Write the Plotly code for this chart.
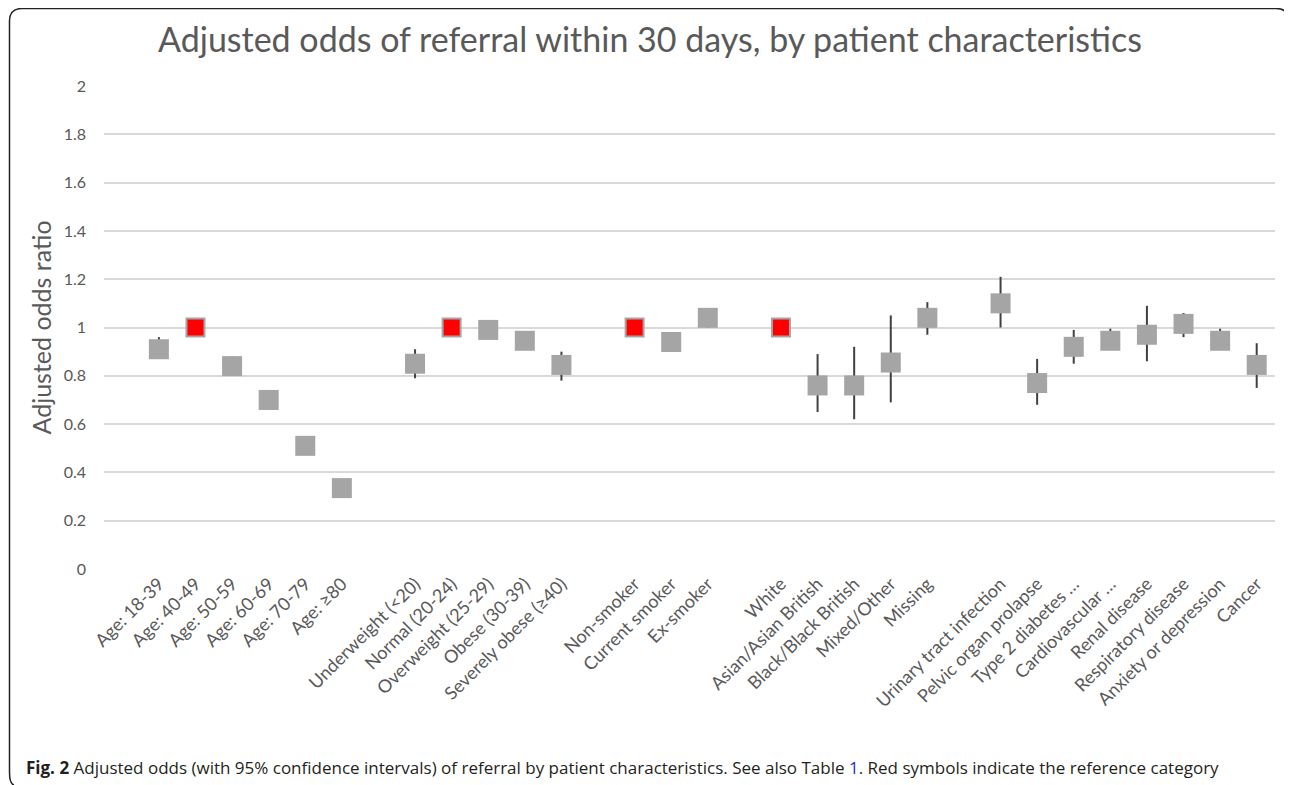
import plotly.graph_objects as go

# ---------------- data ----------------
categories = ["", "Age: 18-39", "Age: 40-49", "Age: 50-59", "Age: 60-69", "Age: 70-79", "Age: ≥80", "",
              "Underweight (&lt;20)", "Normal (20-24)", "Overweight (25-29)", "Obese (30-39)", "Severely obese (≥40)", "",
              "Non-smoker", "Current smoker", "Ex-smoker", "",
              "White", "Asian/Asian British", "Black/Black British", "Mixed/Other", "Missing", "",
              "Urinary tract infection", "Pelvic organ prolapse", "Type 2 diabetes …", "Cardiovascular …",
              "Renal disease", "Respiratory disease", "Anxiety or depression", "Cancer"]
odds = [None, 0.91, 1.0, 0.84, 0.70, 0.51, 0.335, None,
        0.85, 1.0, 0.99, 0.945, 0.845, None,
        1.0, 0.94, 1.04, None,
        1.0, 0.76, 0.76, 0.855, 1.04, None,
        1.10, 0.77, 0.92, 0.945, 0.97, 1.015, 0.945, 0.845]
lower = [None, 0.87, 1.0, 0.80, 0.66, 0.48, 0.31, None,
         0.79, 1.0, 0.95, 0.91, 0.78, None,
         1.0, 0.90, 1.00, None,
         1.0, 0.65, 0.62, 0.69, 0.97, None,
         1.00, 0.68, 0.85, 0.91, 0.86, 0.96, 0.91, 0.75]
upper = [None, 0.96, 1.0, 0.88, 0.74, 0.55, 0.36, None,
         0.91, 1.0, 1.03, 0.985, 0.90, None,
         1.0, 0.98, 1.08, None,
         1.0, 0.89, 0.92, 1.05, 1.105, None,
         1.21, 0.87, 0.99, 0.995, 1.09, 1.06, 0.995, 0.935]
reference = ["Age: 40-49", "Normal (20-24)", "Non-smoker", "White"]
y_ticks = [0, 0.2, 0.4, 0.6, 0.8, 1, 1.2, 1.4, 1.6, 1.8, 2]

title_text = "Adjusted odds of referral within 30 days, by patient characteristics"
y_title = "Adjusted odds ratio"
caption = ("<b>Fig. 2</b> Adjusted odds (with 95% confidence intervals) of referral by patient characteristics. "
           "See also Table <span style='color:#2b2bd6'>1</span>. Red symbols indicate the reference category")

# ---------------- build ----------------
x = list(range(len(categories)))
is_ref = [c in reference for c in categories]

gx, gy, gup, gdn = [], [], [], []
rx, ry = [], []
for i, (c, v, lo, hi, r) in enumerate(zip(categories, odds, lower, upper, is_ref)):
    if v is None:
        continue
    if r:
        rx.append(i); ry.append(v)
    else:
        gx.append(i); gy.append(v)
        gup.append(hi - v); gdn.append(v - lo)

fig = go.Figure()
fig.add_trace(go.Scatter(
    x=gx, y=gy, mode="markers",
    marker=dict(symbol="square", size=20, color="#A5A5A5", line=dict(width=0)),
    error_y=dict(type="data", symmetric=False, array=gup, arrayminus=gdn,
                 color="#404040", thickness=2, width=0),
    showlegend=False, hoverinfo="x+y"))
fig.add_trace(go.Scatter(
    x=rx, y=ry, mode="markers",
    marker=dict(symbol="square", size=18, color="#FF0000", line=dict(width=2, color="#A5A5A5")),
    showlegend=False))

OFF = 8  # page body margin
W, H = 1292 - OFF, 785 - OFF
L, R, T, B = 104 - OFF, 17, 86 - OFF, 216
pw, ph = W - L - R, H - T - B


def px(xs):
    return (xs - OFF - L) / pw


def py(ys):
    return (H - B - (ys - OFF)) / ph


frame = (f"M {px(1289)},{py(22)} Q {px(1289)},{py(8.5)} {px(1276)},{py(8.5)} "
         f"L {px(22)},{py(8.5)} Q {px(9.5)},{py(8.5)} {px(9.5)},{py(21)} "
         f"L {px(9.5)},{py(772)} Q {px(9.5)},{py(784)} {px(14)},{py(785)}")

fig.update_layout(
    width=W, height=H,
    margin=dict(l=L, r=R, t=T, b=B),
    paper_bgcolor="white", plot_bgcolor="white",
    font=dict(family="Lato, 'Open Sans', sans-serif", color="#595959"),
    title=dict(text=title_text, x=0.5, xref="container", xanchor="center",
               y=1 - (40 - OFF) / H, yref="container", yanchor="middle",
               font=dict(size=34, color="#595959", family="Lato, 'Open Sans', sans-serif")),
    xaxis=dict(range=[-0.5, len(categories) - 0.5], tickmode="array", tickvals=x, ticktext=categories,
               tickangle=-45, showgrid=False, zeroline=False, showline=False, ticks="",
               tickfont=dict(size=18, color="#595959")),
    yaxis=dict(range=[0, 2], tickmode="array", tickvals=y_ticks, ticktext=[f"{v:g}" for v in y_ticks],
               showgrid=True, gridcolor="#D9D9D9", gridwidth=1.5, zeroline=False, showline=False,
               ticks="", ticklabelstandoff=17, tickfont=dict(size=16, color="#595959")),
    shapes=[dict(type="path", xref="paper", yref="paper", path=frame,
                 line=dict(color="#222222", width=1.5), layer="above")],
    annotations=[
        dict(text=y_title, xref="paper", yref="paper", x=px(40), y=0.5, textangle=-90,
             showarrow=False, xanchor="center", yanchor="middle",
             font=dict(size=25, color="#595959")),
        dict(text=caption, xref="paper", yref="paper", x=px(24), y=py(767),
             showarrow=False, xanchor="left", yanchor="middle", align="left",
             font=dict(size=17, color="#231F20", family="'Open Sans', Lato, sans-serif")),
    ],
)

fig.write_html("out.html")
